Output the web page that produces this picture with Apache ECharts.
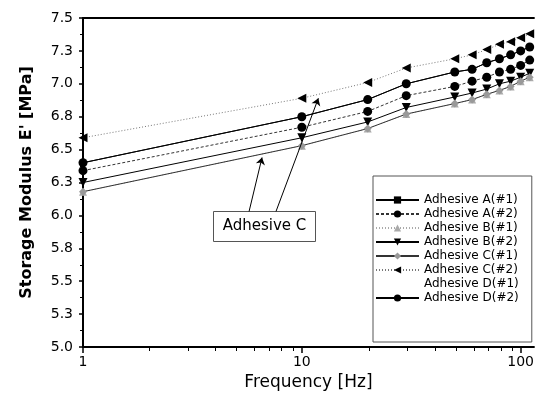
<!DOCTYPE html>
<html><head><meta charset="utf-8">
<script src="https://cdn.jsdelivr.net/npm/echarts@6/dist/echarts.min.js"></script>
<style>html,body{margin:0;padding:0;background:#fff}#c{width:537px;height:396px}</style>
</head><body><div id="c"></div>
<script>
// ---- data ----
const frequency   = [1, 10, 20, 30, 50, 60, 70, 80, 90, 100, 110];
const adhesiveA1  = [6.40, 6.75, 6.88, 7.00, 7.09, 7.11, 7.16, 7.19, 7.22, 7.25, 7.28];
const adhesiveA2  = [6.34, 6.67, 6.79, 6.91, 6.98, 7.02, 7.05, 7.09, 7.11, 7.14, 7.18];
const adhesiveB1  = [6.18, 6.53, 6.66, 6.77, 6.85, 6.88, 6.92, 6.95, 6.98, 7.02, 7.05];
const adhesiveB2  = [6.25, 6.59, 6.71, 6.82, 6.90, 6.93, 6.96, 7.00, 7.02, 7.05, 7.08];
const adhesiveC1  = [6.18, 6.53, 6.66, 6.77, 6.85, 6.88, 6.92, 6.95, 6.98, 7.02, 7.05];
const adhesiveC2  = [6.59, 6.89, 7.01, 7.12, 7.19, 7.22, 7.26, 7.30, 7.32, 7.35, 7.38];
const adhesiveD1  = [];
const adhesiveD2  = [6.40, 6.75, 6.88, 7.00, 7.09, 7.11, 7.16, 7.19, 7.22, 7.25, 7.28];
const seriesNames = ['Adhesive A(#1)','Adhesive A(#2)','Adhesive B(#1)','Adhesive B(#2)',
                     'Adhesive C(#1)','Adhesive C(#2)','Adhesive D(#1)','Adhesive D(#2)'];
const xMajorTicks = [1, 10, 100];
const xMinorTicks = [2,3,4,5,6,7,8,9,20,30,40,50,60,70,80,90];
const annotationText = 'Adhesive C';
// arrows of the annotation, in data coordinates [start, tip]
const arrowC1 = [[5.74, 6.03], [6.58, 6.44]];
const arrowC2 = [[7.62, 6.03], [11.9, 6.89]];

const pts = arr => arr.map((v, i) => [frequency[i], v]);
const FONT = '"DejaVu Sans", sans-serif';

function mk(name, values, symbol, size, color, rotate, line) {
  return {
    name, type: 'line', data: pts(values), xAxisIndex: 0, yAxisIndex: 0,
    symbol, symbolSize: size, symbolRotate: rotate || 0,
    showAllSymbol: true,
    itemStyle: { color, borderWidth: 0 },
    lineStyle: line,
    animation: false
  };
}

const series = [
  mk(seriesNames[0], adhesiveA1, 'rect', 6, '#000', 0, { color: '#000', width: 1, type: 'solid' }),
  mk(seriesNames[1], adhesiveA2, 'circle', 9, '#000', 0, { color: '#333', width: 1, type: [3, 2] }),
  mk(seriesNames[2], adhesiveB1, 'triangle', 8, '#aaa', 0, { color: '#aaa', width: 1, type: [1, 2] }),
  mk(seriesNames[3], adhesiveB2, 'triangle', 9, '#000', 180, { color: '#000', width: 1, type: 'solid' }),
  mk(seriesNames[4], adhesiveC1, 'diamond', 8, '#999', 0, { color: '#333', width: 1, type: 'solid' }),
  mk(seriesNames[5], adhesiveC2, 'triangle', 9, '#000', 90, { color: '#777', width: 1, type: [1, 2] }),
  mk(seriesNames[6], adhesiveD1, 'none', 0, '#000', 0, { color: '#000', width: 0, opacity: 0 }),
  mk(seriesNames[7], adhesiveD2, 'circle', 9, '#000', 0, { color: '#000', width: 1, type: 'solid' })
];
const arrowStyle = { color: '#000', width: 1, type: 'solid' };
series[4].markLine = { silent: true, animation: false, symbol: ['none', 'arrow'], symbolSize: 7,
  lineStyle: arrowStyle, label: { show: false },
  data: [[{ coord: arrowC1[0] }, { coord: arrowC1[1] }]] };
series[5].markLine = { silent: true, animation: false, symbol: ['none', 'arrow'], symbolSize: 7,
  lineStyle: arrowStyle, label: { show: false },
  data: [[{ coord: arrowC2[0] }, { coord: arrowC2[1] }]] };

// overlay series (empty) for minor tick grid
series.push({ type: 'line', data: [], xAxisIndex: 2, yAxisIndex: 1 });

const chart = echarts.init(document.getElementById('c'), null, { renderer: 'canvas' });
chart.setOption({
  animation: false,
  backgroundColor: '#fff',
  grid: [
    { left: 83, top: 18, right: 1, bottom: 49 },
    { left: 83, top: 18, right: 1, bottom: 49 }
  ],
  xAxis: [
    { type: 'log', logBase: 10, min: 1, max: 115, gridIndex: 0, position: 'bottom',
      name: 'Frequency [Hz]', nameLocation: 'middle', nameGap: 26,
      nameTextStyle: { fontFamily: FONT, fontSize: 17, color: '#000' },
      axisLine: { show: true, lineStyle: { color: '#000', width: 2 } },
      axisTick: { show: true, length: 6, lineStyle: { color: '#000', width: 1.5 }, customValues: xMajorTicks },
      axisLabel: { show: true, customValues: xMajorTicks, margin: 8, color: '#000', fontFamily: FONT, fontSize: 14 },
      minorTick: { show: false }, splitLine: { show: false } },
    { type: 'log', logBase: 10, min: 1, max: 115, gridIndex: 0, position: 'top',
      axisLine: { show: true, lineStyle: { color: '#000', width: 2 } },
      axisTick: { show: false }, axisLabel: { show: false }, splitLine: { show: false } },
    { type: 'log', logBase: 10, min: 1, max: 115, gridIndex: 1, position: 'bottom',
      axisLine: { show: false },
      axisTick: { show: true, length: 4, lineStyle: { color: '#000', width: 1 }, customValues: xMinorTicks },
      axisLabel: { show: false }, splitLine: { show: false } }
  ],
  yAxis: [
    { type: 'value', min: 5, max: 7.5, interval: 0.25, gridIndex: 0,
      name: "Storage Modulus E' [MPa]", nameLocation: 'middle', nameGap: 48,
      nameTextStyle: { fontFamily: FONT, fontSize: 16, fontWeight: 'bold', color: '#000' },
      axisLine: { show: true, lineStyle: { color: '#000', width: 2 } },
      axisTick: { show: true, length: 4, lineStyle: { color: '#000', width: 1.5 } },
      minorTick: { show: true, splitNumber: 2, length: 3, lineStyle: { color: '#000', width: 1 } },
      axisLabel: { margin: 10, color: '#000', fontFamily: FONT, fontSize: 14,
        formatter: v => v.toFixed(1) },
      splitLine: { show: false } },
    { type: 'value', min: 5, max: 7.5, gridIndex: 1, show: false }
  ],
  legend: {
    orient: 'vertical', left: 373, top: 176,
    padding: [18, 13, 38, 2],
    itemWidth: 43, itemHeight: 9, itemGap: 2,
    backgroundColor: '#fff', borderColor: '#555', borderWidth: 1,
    textStyle: { fontFamily: FONT, fontSize: 12, color: '#000' },
    data: seriesNames.map((n, i) => i === 6 ? { name: n, icon: 'none' } : { name: n })
  },
  graphic: [{
    type: 'group', left: 213, top: 211, z: 100,
    children: [
      { type: 'rect', shape: { x: 0, y: 0, width: 102, height: 30 },
        style: { fill: '#fff', stroke: '#555', lineWidth: 1 } },
      { type: 'text', x: 51, y: 15,
        style: { text: annotationText, align: 'center', verticalAlign: 'middle',
                 font: '15px "DejaVu Sans", sans-serif', fill: '#000' } }
    ]
  }],
  series
});
</script></body></html>
